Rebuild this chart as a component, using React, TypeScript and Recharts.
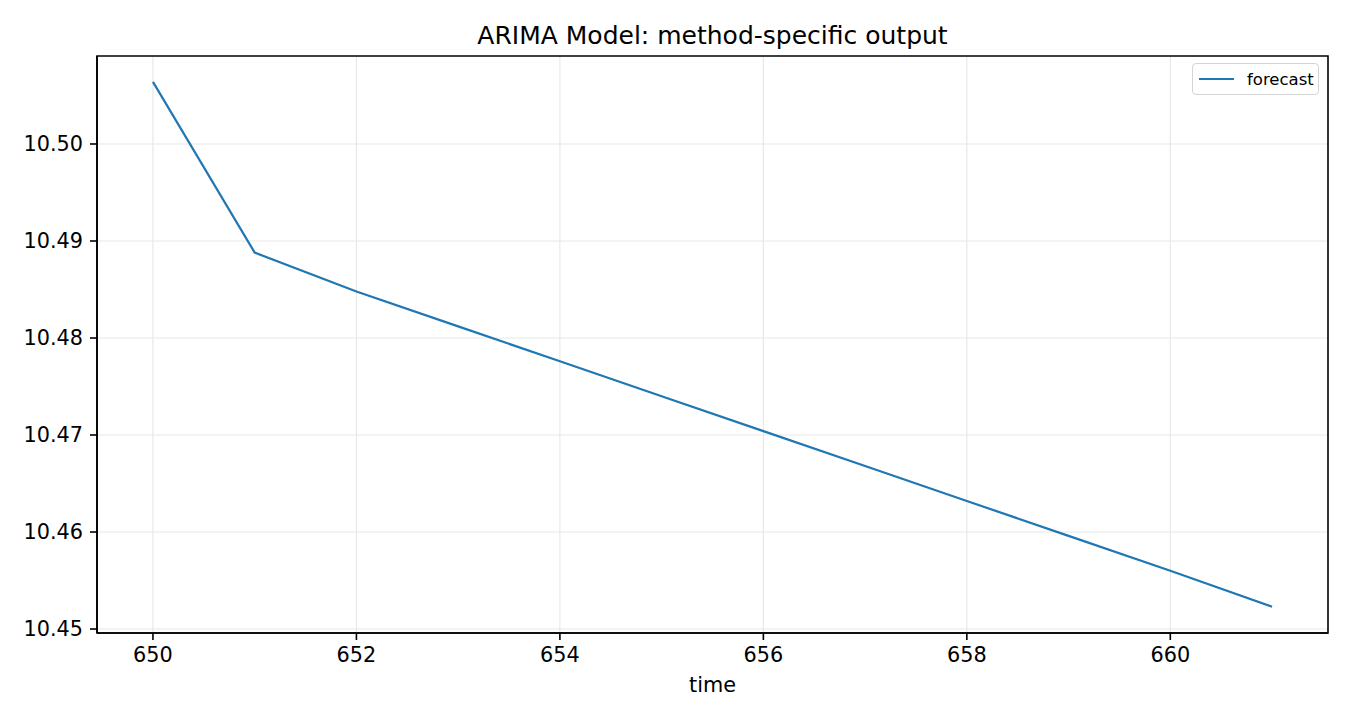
import { LineChart, Line, XAxis, YAxis, CartesianGrid, Legend, ReferenceArea } from "recharts"

// forecast horizon (time index) and ARIMA forecast values
const TIMES = [650, 651, 652, 653, 654, 655, 656, 657, 658, 659, 660, 661]
const FORECAST = [
  10.5064, 10.4888, 10.4848, 10.4812, 10.4776, 10.474, 10.4704, 10.4668, 10.4632, 10.4596, 10.456, 10.4523,
]
const X_TICKS = [650, 652, 654, 656, 658, 660]
const Y_TICKS = [10.45, 10.46, 10.47, 10.48, 10.49, 10.5]

const X_DOMAIN: [number, number] = [649.45, 661.55]
const Y_DOMAIN: [number, number] = [10.44959, 10.50907]

const FONT = "'DejaVu Sans', 'Liberation Sans', sans-serif"
const BLUE = "#1f77b4"

function ForecastLegend() {
  return (
    <div
      style={{
        width: 127,
        height: 32,
        boxSizing: "border-box",
        border: "1px solid #d4d4d4",
        borderRadius: 4,
        background: "#fff",
        display: "flex",
        alignItems: "center",
        fontFamily: FONT,
        fontSize: 16.5,
        color: "#000",
      }}
    >
      <span style={{ display: "inline-block", width: 35, height: 2.2, background: BLUE, marginLeft: 6, marginRight: 13 }} />
      <span>forecast</span>
    </div>
  )
}

export default function App() {
  const data = TIMES.map((t, i) => ({ time: t, forecast: FORECAST[i] }))

  return (
    <div style={{ position: "relative", width: 1350, height: 720, background: "#fff" }}>
      <style>{`body{margin:0}`}</style>
      <div
        style={{
          position: "absolute",
          top: 23,
          left: 97,
          width: 1231,
          textAlign: "center",
          fontFamily: FONT,
          fontSize: 25,
          lineHeight: "25px",
          color: "#000",
          zIndex: 2,
        }}
      >
        ARIMA Model: method-specific output
      </div>
      <LineChart width={1350} height={720} data={data} margin={{ top: 56, right: 22, left: 0, bottom: 0 }}>
        <CartesianGrid stroke="#e8e8e8" strokeWidth={1.2} horizontalValues={Y_TICKS} verticalValues={X_TICKS} />
        <XAxis
          dataKey="time"
          type="number"
          domain={X_DOMAIN}
          ticks={X_TICKS}
          height={87}
          tickSize={7}
          tickMargin={7}
          stroke="#000"
          strokeWidth={1.6}
          tick={{ fill: "#000", fontSize: 20.8, fontFamily: FONT }}
          label={{ value: "time", position: "insideBottom", offset: 28, fill: "#000", fontSize: 20.8, fontFamily: FONT }}
        />
        <YAxis
          type="number"
          domain={Y_DOMAIN}
          ticks={Y_TICKS}
          width={97}
          tickSize={7}
          tickMargin={7}
          stroke="#000"
          strokeWidth={1.6}
          tickFormatter={(v: number) => v.toFixed(2)}
          tick={{ fill: "#000", fontSize: 20.8, fontFamily: FONT }}
        />
        <ReferenceArea
          x1={X_DOMAIN[0]}
          x2={X_DOMAIN[1]}
          y1={Y_DOMAIN[0]}
          y2={Y_DOMAIN[1]}
          fill="none"
          fillOpacity={0}
          stroke="#000"
          strokeWidth={1.6}
        />
        <Line
          type="linear"
          dataKey="forecast"
          stroke={BLUE}
          strokeWidth={2.2}
          dot={false}
          activeDot={false}
          isAnimationActive={false}
        />
        <Legend
          layout="horizontal"
          verticalAlign="middle"
          align="center"
          content={() => <ForecastLegend />}
          wrapperStyle={{ top: 63, left: 1192, width: 127, height: 32 }}
        />
      </LineChart>
    </div>
  )
}
